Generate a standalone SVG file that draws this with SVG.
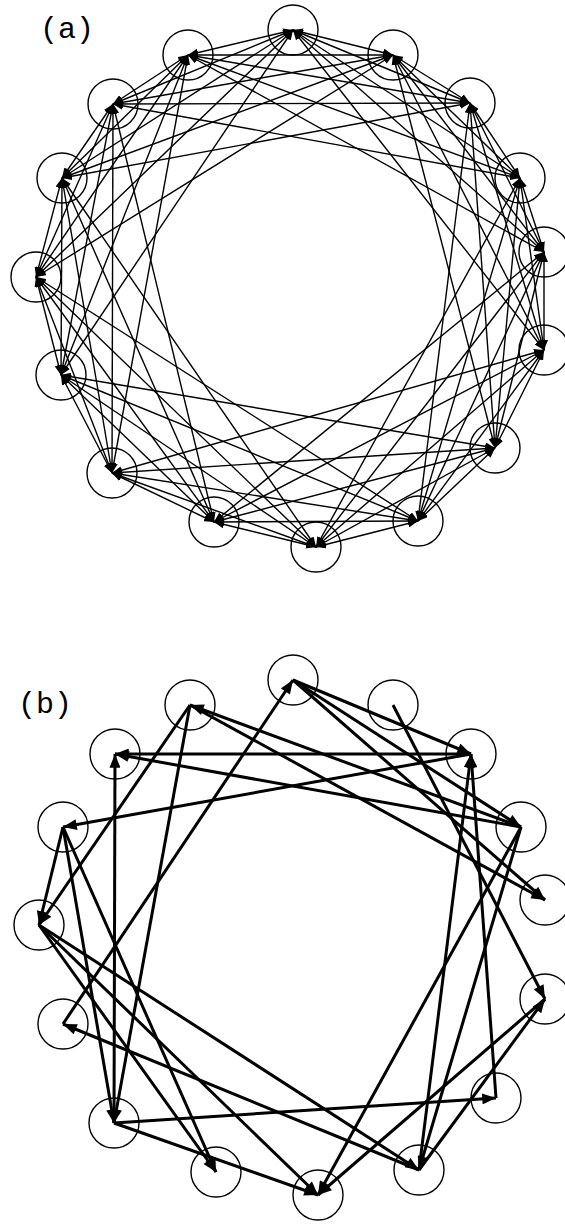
<svg xmlns="http://www.w3.org/2000/svg" width="565" height="1224" viewBox="0 0 565 1224">
<style>
.n{fill:none;stroke:#000;stroke-width:1.4}
.ea line{stroke:#000;stroke-width:1.4;marker-start:url(#ha);marker-end:url(#ha)}
.eb line{stroke:#000;stroke-width:3;marker-end:url(#hb)}
.lbl{font-family:"Liberation Mono","Courier New",monospace;font-size:30px;fill:#000}
</style>
<defs>
<marker id="ha" viewBox="0 0 10 8" refX="10" refY="4" markerWidth="10" markerHeight="8" markerUnits="userSpaceOnUse" orient="auto-start-reverse"><path d="M0,0 L10,4 L0,8 z"/></marker>
<marker id="hb" viewBox="0 0 10 8" refX="10" refY="4" markerWidth="15" markerHeight="11" markerUnits="userSpaceOnUse" orient="auto"><path d="M0,0 L10,4 L0,8 z"/></marker>
</defs>
<text class="lbl" x="40" y="38">(a)</text>
<text class="lbl" x="18" y="713">(b)</text>
<g id="nodes-a">
<g id="a0"><circle class="n" cx="293" cy="30" r="25"/></g>
<g id="a1"><circle class="n" cx="393" cy="55" r="25"/></g>
<g id="a2"><circle class="n" cx="470" cy="103" r="25"/></g>
<g id="a3"><circle class="n" cx="520" cy="178" r="25"/></g>
<g id="a4"><circle class="n" cx="544" cy="252" r="25"/></g>
<g id="a5"><circle class="n" cx="544" cy="350" r="25"/></g>
<g id="a6"><circle class="n" cx="495" cy="448" r="25"/></g>
<g id="a7"><circle class="n" cx="418" cy="521" r="25"/></g>
<g id="a8"><circle class="n" cx="316" cy="547" r="25"/></g>
<g id="a9"><circle class="n" cx="214" cy="522" r="25"/></g>
<g id="a10"><circle class="n" cx="112" cy="473" r="25"/></g>
<g id="a11"><circle class="n" cx="61" cy="375" r="25"/></g>
<g id="a12"><circle class="n" cx="36" cy="277" r="25"/></g>
<g id="a13"><circle class="n" cx="62" cy="178" r="25"/></g>
<g id="a14"><circle class="n" cx="113" cy="104" r="25"/></g>
<g id="a15"><circle class="n" cx="188" cy="55" r="25"/></g>
</g>
<g id="edges-a" class="ea">
<line x1="293" y1="30" x2="393" y2="55"/><line x1="393" y1="55" x2="470" y2="103"/><line x1="470" y1="103" x2="520" y2="178"/><line x1="520" y1="178" x2="544" y2="252"/><line x1="544" y1="252" x2="544" y2="350"/><line x1="544" y1="350" x2="495" y2="448"/><line x1="495" y1="448" x2="418" y2="521"/><line x1="418" y1="521" x2="316" y2="547"/><line x1="316" y1="547" x2="214" y2="522"/><line x1="214" y1="522" x2="112" y2="473"/><line x1="112" y1="473" x2="61" y2="375"/><line x1="61" y1="375" x2="36" y2="277"/><line x1="36" y1="277" x2="62" y2="178"/><line x1="62" y1="178" x2="113" y2="104"/><line x1="113" y1="104" x2="188" y2="55"/><line x1="188" y1="55" x2="293" y2="30"/>
<line x1="293" y1="30" x2="470" y2="103"/><line x1="393" y1="55" x2="520" y2="178"/><line x1="470" y1="103" x2="544" y2="252"/><line x1="520" y1="178" x2="544" y2="350"/><line x1="544" y1="252" x2="495" y2="448"/><line x1="544" y1="350" x2="418" y2="521"/><line x1="495" y1="448" x2="316" y2="547"/><line x1="418" y1="521" x2="214" y2="522"/><line x1="316" y1="547" x2="112" y2="473"/><line x1="214" y1="522" x2="61" y2="375"/><line x1="112" y1="473" x2="36" y2="277"/><line x1="61" y1="375" x2="62" y2="178"/><line x1="36" y1="277" x2="113" y2="104"/><line x1="62" y1="178" x2="188" y2="55"/><line x1="113" y1="104" x2="293" y2="30"/><line x1="188" y1="55" x2="393" y2="55"/>
<line x1="293" y1="30" x2="520" y2="178"/><line x1="393" y1="55" x2="544" y2="252"/><line x1="470" y1="103" x2="544" y2="350"/><line x1="520" y1="178" x2="495" y2="448"/><line x1="544" y1="252" x2="418" y2="521"/><line x1="544" y1="350" x2="316" y2="547"/><line x1="495" y1="448" x2="214" y2="522"/><line x1="418" y1="521" x2="112" y2="473"/><line x1="316" y1="547" x2="61" y2="375"/><line x1="214" y1="522" x2="36" y2="277"/><line x1="112" y1="473" x2="62" y2="178"/><line x1="61" y1="375" x2="113" y2="104"/><line x1="36" y1="277" x2="188" y2="55"/><line x1="62" y1="178" x2="293" y2="30"/><line x1="113" y1="104" x2="393" y2="55"/><line x1="188" y1="55" x2="470" y2="103"/>
<line x1="293" y1="30" x2="544" y2="252"/><line x1="393" y1="55" x2="544" y2="350"/><line x1="470" y1="103" x2="495" y2="448"/><line x1="520" y1="178" x2="418" y2="521"/><line x1="544" y1="252" x2="316" y2="547"/><line x1="544" y1="350" x2="214" y2="522"/><line x1="495" y1="448" x2="112" y2="473"/><line x1="418" y1="521" x2="61" y2="375"/><line x1="316" y1="547" x2="36" y2="277"/><line x1="214" y1="522" x2="62" y2="178"/><line x1="112" y1="473" x2="113" y2="104"/><line x1="61" y1="375" x2="188" y2="55"/><line x1="36" y1="277" x2="293" y2="30"/><line x1="62" y1="178" x2="393" y2="55"/><line x1="113" y1="104" x2="470" y2="103"/><line x1="188" y1="55" x2="520" y2="178"/>
<line x1="293" y1="30" x2="544" y2="350"/><line x1="393" y1="55" x2="495" y2="448"/><line x1="470" y1="103" x2="418" y2="521"/><line x1="520" y1="178" x2="316" y2="547"/><line x1="544" y1="252" x2="214" y2="522"/><line x1="544" y1="350" x2="112" y2="473"/><line x1="495" y1="448" x2="61" y2="375"/><line x1="418" y1="521" x2="36" y2="277"/><line x1="316" y1="547" x2="62" y2="178"/><line x1="214" y1="522" x2="113" y2="104"/><line x1="112" y1="473" x2="188" y2="55"/><line x1="61" y1="375" x2="293" y2="30"/><line x1="36" y1="277" x2="393" y2="55"/><line x1="62" y1="178" x2="470" y2="103"/><line x1="113" y1="104" x2="520" y2="178"/><line x1="188" y1="55" x2="544" y2="252"/>
</g>
<g id="nodes-b">
<g id="b0"><circle class="n" cx="293" cy="680" r="25"/></g>
<g id="b1"><circle class="n" cx="393" cy="705" r="25"/></g>
<g id="b2"><circle class="n" cx="471" cy="754" r="25"/></g>
<g id="b3"><circle class="n" cx="521" cy="827" r="25"/></g>
<g id="b4"><circle class="n" cx="545" cy="900" r="25"/></g>
<g id="b5"><circle class="n" cx="545" cy="999" r="25"/></g>
<g id="b6"><circle class="n" cx="496" cy="1098" r="25"/></g>
<g id="b7"><circle class="n" cx="419" cy="1170" r="25"/></g>
<g id="b8"><circle class="n" cx="318" cy="1195" r="25"/></g>
<g id="b9"><circle class="n" cx="216" cy="1172" r="25"/></g>
<g id="b10"><circle class="n" cx="114" cy="1123" r="25"/></g>
<g id="b11"><circle class="n" cx="63" cy="1024" r="25"/></g>
<g id="b12"><circle class="n" cx="39" cy="925" r="25"/></g>
<g id="b13"><circle class="n" cx="63" cy="827" r="25"/></g>
<g id="b14"><circle class="n" cx="115" cy="754" r="25"/></g>
<g id="b15"><circle class="n" cx="190" cy="705" r="25"/></g>
</g>
<g id="edges-b" class="eb">
<line x1="293" y1="680" x2="471" y2="754"/>
<line x1="293" y1="680" x2="521" y2="827"/>
<line x1="293" y1="680" x2="545" y2="900"/>
<line x1="63" y1="1024" x2="293" y2="680"/>
<line x1="393" y1="705" x2="545" y2="999"/>
<line x1="471" y1="754" x2="115" y2="754"/>
<line x1="521" y1="827" x2="115" y2="754"/>
<line x1="471" y1="754" x2="63" y2="827"/>
<line x1="190" y1="705" x2="39" y2="925"/>
<line x1="190" y1="705" x2="114" y2="1123"/>
<line x1="114" y1="1123" x2="115" y2="754"/>
<line x1="63" y1="827" x2="39" y2="925"/>
<line x1="63" y1="827" x2="114" y2="1123"/>
<line x1="63" y1="827" x2="216" y2="1172"/>
<line x1="39" y1="925" x2="419" y2="1170"/>
<line x1="39" y1="925" x2="216" y2="1172"/>
<line x1="39" y1="925" x2="318" y2="1195"/>
<line x1="419" y1="1170" x2="471" y2="754"/>
<line x1="496" y1="1098" x2="471" y2="754"/>
<line x1="114" y1="1123" x2="496" y2="1098"/>
<line x1="114" y1="1123" x2="318" y2="1195"/>
<line x1="521" y1="827" x2="190" y2="705"/>
<line x1="190" y1="705" x2="545" y2="900"/>
<line x1="419" y1="1170" x2="545" y2="999"/>
<line x1="521" y1="827" x2="419" y2="1170"/>
<line x1="521" y1="827" x2="318" y2="1195"/>
<line x1="545" y1="999" x2="318" y2="1195"/>
<line x1="419" y1="1170" x2="63" y2="1024"/>
</g>
</svg>
